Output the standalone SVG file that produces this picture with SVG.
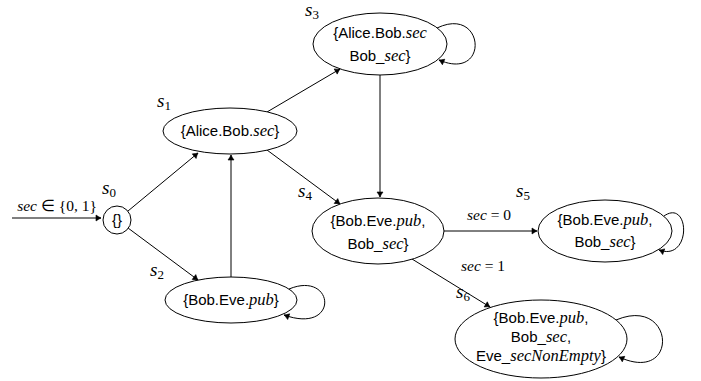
<svg xmlns="http://www.w3.org/2000/svg" width="701" height="381" viewBox="0 0 701 381">
<style>
.n{fill:#fff;stroke:#000;stroke-width:1}
.e{fill:none;stroke:#000;stroke-width:1}
.t{font-family:"Liberation Sans",Arial,sans-serif;font-size:15px;fill:#000;text-anchor:middle}
.m{font-family:"Liberation Serif","Times New Roman",serif;font-style:italic;font-size:16.5px}
.l{font-family:"Liberation Serif","Times New Roman",serif;font-style:italic;font-size:19px;fill:#000}
.sub{font-size:13px;font-style:normal}
.el{font-family:"Liberation Serif","Times New Roman",serif;font-style:italic;font-size:15.5px;fill:#000;text-anchor:middle}
.r{font-style:normal}
</style>
<defs>
<marker id="a" viewBox="-6 -4 7 8" refX="0" refY="0" markerWidth="7" markerHeight="8" orient="auto" markerUnits="userSpaceOnUse">
<path d="M-5,-3 Q-2,-0.8 0,0 Q-2,0.8 -5,3 Z" fill="#000" stroke="#000" stroke-width="0.6" stroke-linejoin="round"/>
</marker>
</defs>
<g id="connectors">
<path class="e" d="M12,218 L101,218" marker-end="url(#a)"/>
<path class="e" d="M128,211 L198,153" marker-end="url(#a)"/>
<path class="e" d="M128,228 L198,280" marker-end="url(#a)"/>
<path class="e" d="M231,277 L231,155" marker-end="url(#a)"/>
<path class="e" d="M267,112 L340,69" marker-end="url(#a)"/>
<path class="e" d="M380,75 L380,197" marker-end="url(#a)"/>
<path class="e" d="M267,150 L340,204" marker-end="url(#a)"/>
<path class="e" d="M444,231 L537,231" marker-end="url(#a)"/>
<path class="e" d="M412,259 L490,307" marker-end="url(#a)"/>
<path class="e" d="M437,28 C485,5 490,82 439,60" marker-end="url(#a)"/>
<path class="e" d="M664,216 C690,198 692,262 659,250" marker-end="url(#a)"/>
<path class="e" d="M289,289 C335,270 340,335 284,315" marker-end="url(#a)"/>
<path class="e" d="M616,320 C675,295 680,385 619,357" marker-end="url(#a)"/>
<text class="el" x="57" y="211">sec <tspan class="r">∈ {0, 1}</tspan></text>
<text class="el" x="489" y="220">sec <tspan class="r">= 0</tspan></text>
<text class="el" x="483" y="271">sec <tspan class="r">= 1</tspan></text>
</g>
<g id="s0">
<circle class="n" cx="117" cy="220" r="14"/>
<text class="t" x="117" y="225">{}</text>
<text class="l" x="102" y="194">s<tspan class="sub" dy="3">0</tspan></text>
</g>
<g id="s1">
<ellipse class="n" cx="230" cy="131" rx="67" ry="23"/>
<text class="t" x="230" y="136">{Alice.Bob.<tspan class="m">sec</tspan>}</text>
<text class="l" x="157" y="107">s<tspan class="sub" dy="3">1</tspan></text>
</g>
<g id="s2">
<ellipse class="n" cx="231" cy="300" rx="66" ry="23"/>
<text class="t" x="231" y="305">{Bob.Eve.<tspan class="m">pub</tspan>}</text>
<text class="l" x="150" y="276">s<tspan class="sub" dy="3">2</tspan></text>
</g>
<g id="s3">
<ellipse class="n" cx="380" cy="44" rx="67" ry="31"/>
<text class="t" x="380" y="38">{Alice.Bob.<tspan class="m">sec</tspan></text>
<text class="t" x="380" y="61">Bob_<tspan class="m">sec</tspan>}</text>
<text class="l" x="305" y="16">s<tspan class="sub" dy="3">3</tspan></text>
</g>
<g id="s4">
<ellipse class="n" cx="378" cy="231" rx="66" ry="33"/>
<text class="t" x="378" y="226">{Bob.Eve.<tspan class="m">pub</tspan>,</text>
<text class="t" x="378" y="249">Bob_<tspan class="m">sec</tspan>}</text>
<text class="l" x="298" y="197">s<tspan class="sub" dy="3">4</tspan></text>
</g>
<g id="s5">
<ellipse class="n" cx="605" cy="231" rx="67" ry="31"/>
<text class="t" x="605" y="225">{Bob.Eve.<tspan class="m">pub</tspan>,</text>
<text class="t" x="605" y="247">Bob_<tspan class="m">sec</tspan>}</text>
<text class="l" x="516" y="197">s<tspan class="sub" dy="3">5</tspan></text>
</g>
<g id="s6">
<ellipse class="n" cx="541" cy="339" rx="86" ry="39"/>
<text class="t" x="541" y="323">{Bob.Eve.<tspan class="m">pub</tspan>,</text>
<text class="t" x="541" y="342">Bob_<tspan class="m">sec</tspan>,</text>
<text class="t" x="541" y="361">Eve_<tspan class="m">secNonEmpty</tspan>}</text>
<text class="l" x="456" y="298">s<tspan class="sub" dy="3">6</tspan></text>
</g>
</svg>
